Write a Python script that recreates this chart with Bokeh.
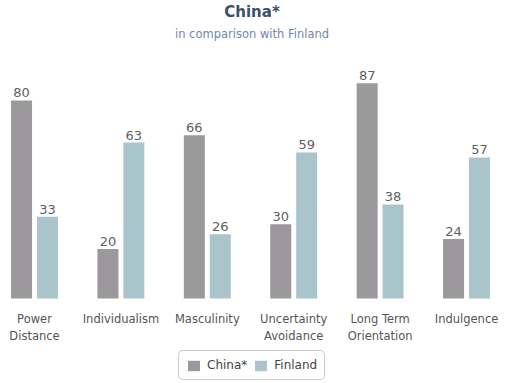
from bokeh.plotting import figure
from bokeh.models import Range1d, ColumnDataSource, Legend, LegendItem, Title
from bokeh.core.properties import value
from bokeh.embed import file_html
from bokeh.resources import INLINE

categories = ["Power\nDistance", "Individualism", "Masculinity", "Uncertainty\nAvoidance", "Long Term\nOrientation", "Indulgence"]
china = [80, 20, 66, 30, 87, 24]
finland = [33, 63, 26, 59, 38, 57]
series_names = ["China*", "Finland"]

FONT = "DejaVu Sans"
C_CHINA = "#9b999c"
C_FIN = "#a9c4cb"

idx = [i + 0.5 for i in range(len(categories))]
src = ColumnDataSource(dict(
    xc=[x - 0.15 for x in idx], xf=[x + 0.15 for x in idx],
    china=china, finland=finland,
    tc=[str(v) for v in china], tf=[str(v) for v in finland],
))
cat_src = ColumnDataSource(dict(x=idx, y=[0] * len(idx), label=categories))

p = figure(width=503, height=383, output_backend="svg", toolbar_location=None,
           x_range=Range1d(0.1065, 5.928), y_range=Range1d(-34.34, 100.2),
           x_axis_location=None, y_axis_location=None, title=None,
           min_border_left=0, min_border_right=0, min_border_top=50, min_border_bottom=0)
p.outline_line_color = None
p.xgrid.visible = False
p.ygrid.visible = False

rc = p.vbar(x="xc", top="china", width=0.243, bottom=0, source=src, fill_color=C_CHINA, line_color=None)
rf = p.vbar(x="xf", top="finland", width=0.243, bottom=0, source=src, fill_color=C_FIN, line_color=None)

for xcol, ycol, tcol in (("xc", "china", "tc"), ("xf", "finland", "tf")):
    p.text(x=xcol, y=ycol, text=tcol, source=src, text_align="center", text_baseline="bottom",
           y_offset=-3, text_font=value(FONT), text_font_size="13px", text_color="#606060")

# category labels under the bars
p.text(x="x", y="y", text="label", source=cat_src, text_align="center", text_baseline="top",
       y_offset=13, text_font=value(FONT), text_font_size="11.5px", text_color="#555555",
       text_line_height=1.25)

sub = Title(text="in comparison with Finland", align="center", text_font=FONT,
            text_font_size="11.5px", text_color="#6f88aa", text_font_style="normal", standoff=19)
main = Title(text="China*", align="center", text_font=FONT,
             text_font_size="15px", text_color="#3e4f66", text_font_style="bold", standoff=-10)
p.add_layout(sub, "above")
p.add_layout(main, "above")

legend = Legend(items=[LegendItem(label=series_names[0], renderers=[rc]),
                       LegendItem(label=series_names[1], renderers=[rf])],
                orientation="horizontal", location=(178, 3),
                glyph_width=15, glyph_height=13, label_standoff=6, spacing=6,
                padding=7, margin=0,
                label_text_font=FONT, label_text_font_size="12px", label_text_color="#444444",
                border_line_color="#999999", border_line_width=1, background_fill_color="white")
if "border_radius" in legend.properties():
    legend.border_radius = 5
p.add_layout(legend, "center")

open("out.html", "w").write(file_html(p, INLINE))
